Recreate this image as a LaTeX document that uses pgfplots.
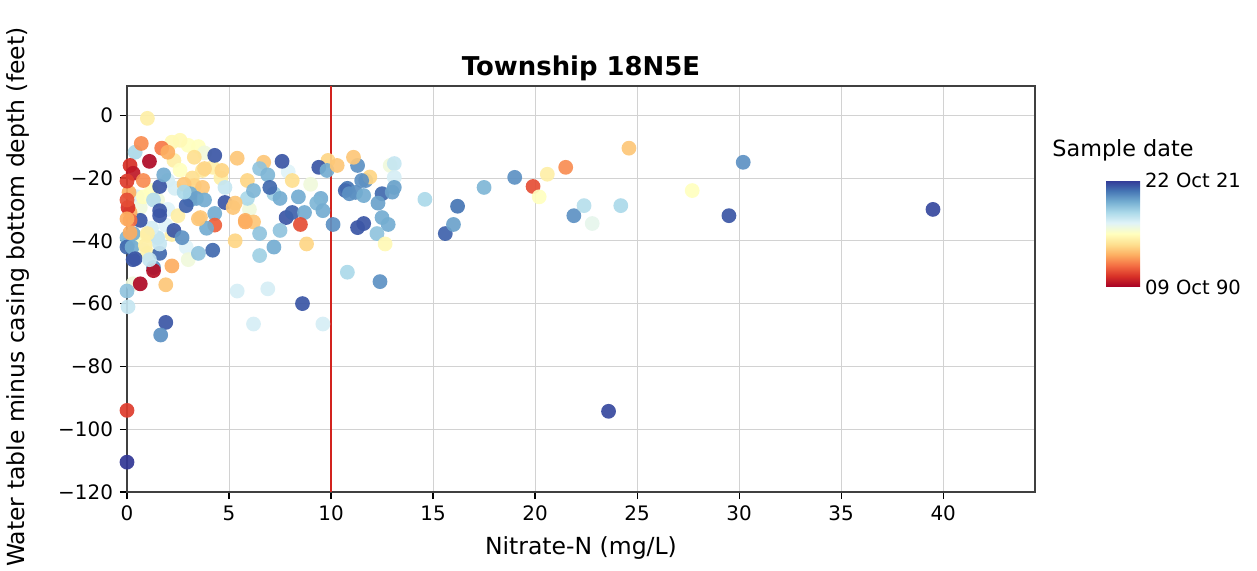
\documentclass[border=0pt]{standalone}
\usepackage{fontspec}
\setmainfont{DejaVu Sans}
\usepackage{pgfplots}
\pgfplotsset{compat=1.18}
\usepackage{pgfplotstable}

\pgfplotsset{colormap={RdYlBu}{rgb255=(165,0,38) rgb255=(215,48,39) rgb255=(244,109,67) rgb255=(253,174,97) rgb255=(254,224,144) rgb255=(255,255,191) rgb255=(224,243,248) rgb255=(171,217,233) rgb255=(116,173,209) rgb255=(69,117,180) rgb255=(49,54,149)}}
\pgfplotsset{every axis title shift=0pt}
\definecolor{limitred}{RGB}{210,35,30}

% x = nitrate-N, y = water table minus casing depth, c = sample date (0 = oldest, 1 = newest)
\pgfplotstableread{
x y c
1.0 -1 0.45
2.2 -8.6 0.48
3.0 -9.6 0.5
2.6 -8 0.48
3.5 -10 0.5
2.3 -14.4 0.45
3.7 -17.6 0.42
4.2 -16.6 0.45
2.6 -17.5 0.5
3.8 -12 0.55
4.6 -20 0.45
1.5 -27 0.55
2.0 -30 0.6
0.5 -26 0.62
1.2 -24 0.5
3.2 -20 0.4
2.2 -38 0.45
0.8 -43 0.55
2.9 -42 0.6
4.8 -23 0.65
1.9 -35 0.6
0.5 -39 0.5
6.0 -30 0.55
7.9 -18 0.6
9.0 -22 0.55
3.0 -46 0.55
0.65 -29.4 0.55
0.8 -26 0.5
1.0 -38.3 0.47
1.0 -44 0.47
0.3 -53.7 0.55
2.35 -23.3 0.62
0.4 -11.8 0.7
0.7 -9 0.25
1.7 -10.5 0.22
2.0 -11.8 0.3
3.3 -13.4 0.4
3.8 -17 0.38
4.65 -17.6 0.38
3.3 -22.4 0.38
2.0 -20.8 0.62
1.3 -27 0.68
1.5 -39 0.66
1.2 -36 0.62
5.9 -26.5 0.7
7.2 -25 0.72
9.85 -14.4 0.38
1.1 -14.7 0.02
0.15 -16 0.1
0.3 -18.5 0.05
4.3 -12.8 0.95
5.4 -13.7 0.35
6.7 -15 0.35
7.6 -14.7 0.95
9.4 -16.6 0.95
9.8 -17.6 0.8
10.3 -16 0.35
11.3 -16 0.85
6.5 -17 0.75
6.9 -19 0.78
5.9 -20.8 0.38
8.1 -20.8 0.4
0.8 -20.8 0.25
1.6 -22.7 0.95
2.8 -22 0.35
3.7 -23 0.35
6.2 -24 0.78
7.0 -23 0.92
7.5 -26.5 0.8
8.4 -26 0.8
9.5 -26.5 0.8
10.8 -23.3 0.9
11.2 -24.6 0.85
11.7 -20.8 0.85
4.8 -27.8 0.95
5.2 -29.4 0.35
1.6 -32 0.95
2.5 -32 0.45
4.3 -31.3 0.8
7.8 -32.6 0.95
8.1 -31 0.93
8.7 -31 0.8
9.3 -28 0.78
9.6 -30.4 0.8
8.5 -34.8 0.15
10.1 -34.8 0.85
11.3 -35.8 0.95
11.6 -34.5 0.95
4.3 -35 0.18
3.6 -32.6 0.35
5.8 -33.5 0.3
6.2 -34 0.35
0.65 -33.5 0.95
2.3 -36.7 0.95
2.7 -39 0.85
3.9 -36 0.8
6.5 -37.7 0.75
7.5 -36.7 0.75
5.3 -40 0.38
8.8 -41 0.38
3.5 -44 0.75
4.2 -43 0.92
6.5 -44.7 0.72
7.2 -42 0.8
0.3 -46 0.95
2.2 -48 0.3
1.9 -54 0.35
10.8 -50 0.7
5.4 -56 0.62
6.9 -55.3 0.62
8.6 -60 0.95
0 -56 0.75
0.05 -61 0.65
1.9 -66 0.95
1.65 -70 0.85
6.2 -66.5 0.62
9.6 -66.5 0.62
0 -94 0.12
0 -110.5 1.0
11.1 -13.4 0.35
11.9 -19.7 0.38
12.9 -16 0.55
13.1 -15.4 0.65
13.1 -19.8 0.62
11.5 -20.8 0.85
10.7 -24 0.92
10.9 -25 0.85
11.6 -25.6 0.8
12.5 -25 0.92
13.0 -24.5 0.82
13.1 -23 0.82
12.3 -28 0.82
14.6 -26.8 0.7
16.2 -29 0.9
17.5 -23 0.78
19.0 -19.8 0.85
19.9 -22.7 0.15
20.6 -18.8 0.45
21.5 -16.6 0.25
20.2 -26 0.5
24.6 -10.5 0.35
21.9 -32 0.85
22.4 -28.8 0.68
22.8 -34.5 0.58
24.2 -28.8 0.7
12.5 -32.6 0.8
12.8 -34.8 0.8
12.25 -37.7 0.75
12.65 -41 0.48
15.6 -37.7 0.93
16.0 -34.8 0.82
12.4 -53 0.85
30.2 -15 0.85
27.7 -24 0.5
29.5 -32 0.95
39.5 -30 0.97
23.6 -94.3 0.97
3.1 -27 0.78
3.1 -25 0.8
3.4 -26.5 0.82
2.9 -28.8 0.93
1.6 -30.4 0.95
0.15 -31 0.3
0.05 -29.4 0.1
0.1 -24.6 0.3
0.15 -33.5 0.2
0.3 -37.7 0.8
0.05 -41 0.75
0 -39 0.78
0 -42 0.92
0.25 -42 0.8
0.4 -45.7 0.95
1.6 -44 0.92
1.0 -37.7 0.45
3.5 -33 0.35
1.3 -48.5 0.85
1.3 -49.5 0.03
0.65 -53.7 0.02
0.9 -41.5 0.45
1.6 -41 0.65
5.3 -28 0.35
5.8 -34 0.3
1.8 -19 0.8
2.8 -24.5 0.7
3.8 -27 0.8
0.15 -37.4 0.3
1.1 -46 0.65
0 -21 0.12
0 -33 0.3
0 -27 0.15
}\samples

\begin{document}
\begin{tikzpicture}
\useasboundingbox (-63.5bp,-39.5bp) rectangle (565bp,246bp);
\begin{axis}[
  scale only axis,
  width=454bp, height=203bp,
  xmin=0, xmax=44.5,
  ymin=-120, ymax=9.3,
  xtick={0,5,...,40},
  xticklabels={0,5,10,15,20,25,30,35,40},
  ytick={-120,-100,...,0},
  yticklabels={−120,−100,−80,−60,−40,−20,0},
  xtick pos=left, ytick pos=left,
  tick align=outside,
  major tick length=3.5bp,
  tick style={black, line width=0.6bp},
  ticklabel style={font=\fontsize{10}{12}\selectfont},
  grid=major,
  grid style={gray!35, line width=0.5bp},
  axis line style={black!75, line width=0.7bp},
  title={Township 18N5E},
  title style={at={(axis description cs:0.5,1.044)}, anchor=center, font=\fontsize{13}{15}\selectfont\bfseries},
  xlabel={Nitrate-N (mg/L)},
  xlabel style={at={(axis description cs:0.5,-0.138)}, anchor=center, font=\fontsize{11.8}{14}\selectfont},
  ylabel={Water table minus casing bottom depth (feet)},
  ylabel style={at={(axis description cs:-0.12,0.48)}, anchor=center, font=\fontsize{11.8}{14}\selectfont},
  colormap name=RdYlBu,
  point meta min=0, point meta max=1,
  colorbar,
  colorbar/width=17bp,
  colorbar style={
    at={(481bp,156bp)}, anchor=north west,
    scale only axis,
    height=53.5bp,
    ytick={0,1},
    yticklabels={09 Oct 90,22 Oct 21},
    major tick length=0pt,
    yticklabel style={font=\fontsize{9.8}{12}\selectfont, xshift=-1bp},
    axis line style={draw=none},
    title={Sample date},
    title style={at={(0.5,1)}, anchor=center, yshift=15bp, font=\fontsize{11.2}{13}\selectfont},
  },
]
\addplot[limitred, line width=1bp] coordinates {(10,-120) (10,9.3)};
\addplot[scatter, only marks, mark=*, mark size=3.7bp,
  point meta=explicit,
  scatter/use mapped color={draw opacity=0, fill=mapped color},
  fill opacity=0.92]
  table[x=x, y=y, meta=c] {\samples};
\end{axis}
\end{tikzpicture}
\end{document}
